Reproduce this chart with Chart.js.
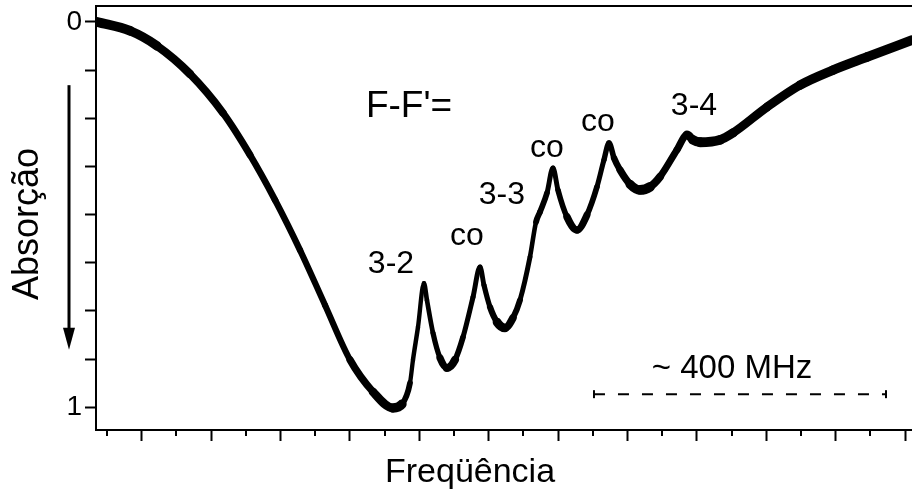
<!DOCTYPE html>
<html>
<head>
<meta charset="utf-8">
<script src="https://cdn.jsdelivr.net/npm/chart.js@4.4.0/dist/chart.umd.min.js"></script>
<style>
  html, body { margin: 0; padding: 0; background: #fff; }
  #wrap { width: 912px; height: 491px; }
</style>
</head>
<body>
<div id="wrap"><canvas id="spectrum" width="912" height="491"></canvas></div>
<script>
// Saturated absorption spectrum - frequency in major-tick units (arb.), absorption normalised 0..1

const freq = [-0.643, -0.169, 0.220, 0.696, 1.171, 1.560, 1.921, 2.281, 2.642, 3.002,
  3.333, 3.621, 3.750, 3.866, 3.909, 3.981, 4.067, 4.110,
  4.197, 4.298, 4.399, 4.514, 4.630, 4.774, 4.875, 4.932, 5.019, 5.120,
  5.235, 5.350, 5.451, 5.595, 5.682, 5.739, 5.840, 5.926, 5.998, 6.128,
  6.272, 6.416, 6.560, 6.661, 6.734, 6.806, 6.892, 7.036, 7.180, 7.324,
  7.468, 7.713, 7.857, 7.944, 8.045, 8.333, 8.520, 9.010, 9.486, 9.961,
  10.452, 11.100];
const absorption = [0.000, 0.023, 0.062, 0.135, 0.236, 0.345, 0.462, 0.592, 0.735, 0.877,
  0.960, 1.002, 0.992, 0.937, 0.877, 0.792, 0.678, 0.722,
  0.807, 0.872, 0.898, 0.877, 0.818, 0.714, 0.636, 0.683, 0.740, 0.779,
  0.794, 0.768, 0.722, 0.610, 0.519, 0.493, 0.444, 0.379, 0.436, 0.506,
  0.540, 0.501, 0.428, 0.358, 0.314, 0.353, 0.384, 0.421, 0.436, 0.428,
  0.402, 0.332, 0.293, 0.306, 0.312, 0.306, 0.288, 0.221, 0.164, 0.125,
  0.091, 0.047];

const yTickValues = [0, 0.125, 0.25, 0.375, 0.5, 0.625, 0.75, 0.875, 1];
const yTickLabels = { 0: "0", 1: "1" };
const xMajorTicks = [0, 1, 2, 3, 4, 5, 6, 7, 8, 9, 10, 11];
const xMinorTicks = [-0.5, 0.5, 1.5, 2.5, 3.5, 4.5, 5.5, 6.5, 7.5, 8.5, 9.5, 10.5];

// hyperfine transitions and crossovers
const peakLabels = ["3-2", "co", "3-3", "co", "co", "3-4"];
const peakLabelFreq = [3.592, 4.687, 5.191, 5.840, 6.575, 7.958];
const peakLabelAbs = [0.652, 0.579, 0.473, 0.350, 0.283, 0.241];

// ~400 MHz scale bar
const scaleBarFreq = [6.517, 10.725];
const scaleBarAbs = [0.966, 0.966];

const FONT = "'Liberation Sans', Arial, sans-serif";
Chart.defaults.font.family = FONT;
Chart.defaults.font.size = 28;
Chart.defaults.color = "#000";

const decor = {
  id: "decor",
  afterDraw(chart) {
    const { ctx, chartArea } = chart;
    const x = chart.scales.x;
    const y = chart.scales.y;
    ctx.save();
    ctx.strokeStyle = "#000";
    ctx.fillStyle = "#000";

    // minor ticks on the frequency axis
    ctx.lineWidth = 2;
    xMinorTicks.forEach((v) => {
      const px = Math.round(x.getPixelForValue(v));
      ctx.beginPath();
      ctx.moveTo(px, chartArea.bottom);
      ctx.lineTo(px, chartArea.bottom + 6);
      ctx.stroke();
    });

    // arrow along the absorption axis
    const ax = chartArea.left - 27;
    const aTop = y.getPixelForValue(0.164);
    const aTip = y.getPixelForValue(0.851);
    ctx.lineWidth = 3;
    ctx.beginPath();
    ctx.moveTo(ax, aTop);
    ctx.lineTo(ax, aTip - 18);
    ctx.stroke();
    ctx.beginPath();
    ctx.moveTo(ax - 6, aTip - 22);
    ctx.lineTo(ax + 6, aTip - 22);
    ctx.lineTo(ax, aTip);
    ctx.closePath();
    ctx.fill();

    // peak labels
    ctx.textAlign = "center";
    ctx.textBaseline = "alphabetic";
    ctx.font = "32px " + FONT;
    peakLabels.forEach((t, i) => {
      ctx.fillText(t, x.getPixelForValue(peakLabelFreq[i]), y.getPixelForValue(peakLabelAbs[i]));
    });
    ctx.font = "37px " + FONT;
    ctx.fillText("F-F'=", x.getPixelForValue(3.852), y.getPixelForValue(0.247));
    ctx.font = "33px " + FONT;
    ctx.fillText("~ 400 MHz", x.getPixelForValue(8.506), y.getPixelForValue(0.924));

    // axis titles
    ctx.font = "34px " + FONT;
    ctx.fillText("Freqüência", x.getPixelForValue(4.731), chart.height - 9);
    ctx.translate(38, (chartArea.top + chartArea.bottom) / 2 + 6);
    ctx.rotate(-Math.PI / 2);
    ctx.font = "36px " + FONT;
    ctx.fillText("Absorção", 0, 0);
    ctx.restore();
  },
};

// noisy trace looks thick where flat, thin where steep
function traceWidth(c) {
  const dx = c.p1.x - c.p0.x;
  const dy = c.p1.y - c.p0.y;
  const cos = dx / Math.sqrt(dx * dx + dy * dy);
  return 3.5 + 6.5 * cos;
}

const ctx = document.getElementById("spectrum").getContext("2d");

new Chart(ctx, {
  type: "line",
  data: {
    datasets: [
      {
        data: freq.map((f, i) => ({ x: f, y: absorption[i] })),
        xAxisID: "x",
        yAxisID: "y",
        borderColor: "#000",
        borderWidth: 6,
        borderCapStyle: "round",
        borderJoinStyle: "round",
        segment: { borderWidth: traceWidth },
        pointRadius: 0,
        cubicInterpolationMode: "monotone",
        fill: false,
      },
      {
        data: scaleBarFreq.map((f, i) => ({ x: f, y: scaleBarAbs[i] })),
        xAxisID: "x",
        yAxisID: "y",
        borderColor: "#000",
        borderWidth: 2,
        borderDash: [11, 13],
        pointStyle: "line",
        rotation: 90,
        pointRadius: 4,
        pointBorderWidth: 2,
        pointBorderColor: "#000",
        fill: false,
      },
    ],
  },
  options: {
    responsive: false,
    animation: false,
    events: [],
    layout: { padding: 0, autoPadding: false },
    plugins: {
      legend: { display: false },
      tooltip: { enabled: false },
    },
    scales: {
      x: {
        type: "linear",
        position: "bottom",
        min: -0.659,
        max: 11.1,
        afterBuildTicks: (s) => { s.ticks = xMajorTicks.map((v) => ({ value: v })); },
        afterFit: (s) => { s.height = 61; s.paddingLeft = 0; s.paddingRight = 0; },
        ticks: { display: false },
        grid: { drawOnChartArea: false, drawTicks: true, tickLength: 11, tickWidth: 2, tickColor: "#000" },
        border: { display: true, color: "#000", width: 2 },
      },
      xTop: {
        type: "linear",
        axis: "x",
        position: "top",
        min: -0.659,
        max: 11.1,
        afterFit: (s) => { s.height = 6; s.paddingLeft = 0; s.paddingRight = 0; },
        ticks: { display: false },
        grid: { display: false },
        border: { display: true, color: "#000", width: 2 },
      },
      y: {
        type: "linear",
        position: "left",
        reverse: true,
        min: -0.0415,
        max: 1.059,
        afterBuildTicks: (s) => { s.ticks = yTickValues.map((v) => ({ value: v })); },
        afterFit: (s) => { s.width = 96; s.paddingTop = 0; s.paddingBottom = 0; },
        ticks: {
          callback: (v) => (yTickLabels[v] !== undefined ? yTickLabels[v] : ""),
          font: { family: FONT, size: 28 },
          color: "#000",
          padding: 3,
          autoSkip: false,
        },
        grid: { drawOnChartArea: false, drawTicks: true, tickLength: 11, tickWidth: 2, tickColor: "#000" },
        border: { display: true, color: "#000", width: 2 },
      },
    },
  },
  plugins: [decor],
});
</script>
</body>
</html>
